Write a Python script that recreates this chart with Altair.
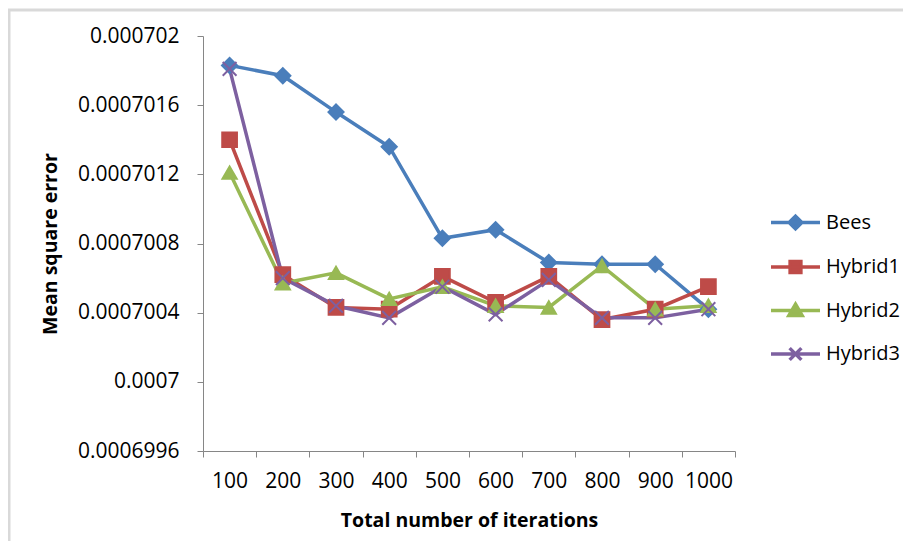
import altair as alt
import pandas as pd

iterations = ["100", "200", "300", "400", "500", "600", "700", "800", "900", "1000"]
series = ["Bees", "Hybrid1", "Hybrid2", "Hybrid3"]
bees = [0.00070183, 0.00070177, 0.00070156, 0.00070136, 0.00070083, 0.00070088, 0.00070069, 0.00070068, 0.00070068, 0.00070042]
hybrid1 = [0.00070140, 0.00070062, 0.00070043, 0.00070042, 0.00070061, 0.00070046, 0.00070061, 0.00070036, 0.00070042, 0.00070055]
hybrid2 = [0.00070121, 0.00070057, 0.00070063, 0.00070048, 0.00070055, 0.00070044, 0.00070043, 0.00070067, 0.00070042, 0.00070044]
hybrid3 = [0.00070181, 0.00070060, 0.00070044, 0.00070037, 0.00070055, 0.00070039, 0.00070059, 0.00070037, 0.00070037, 0.00070042]
y_ticks = [0.0006996, 0.0007, 0.0007004, 0.0007008, 0.0007012, 0.0007016, 0.000702]
colors = ["#4A7EBB", "#BE4B48", "#98B954", "#7D60A0"]

FONT = "Open Sans"

rows = []
for name, vals in zip(series, [bees, hybrid1, hybrid2, hybrid3]):
    for it, v in zip(iterations, vals):
        rows.append({"Iterations": it, "Series": name, "MSE": v})
df = pd.DataFrame(rows)

x_enc = alt.X(
    "Iterations:N",
    sort=iterations,
    bandPosition=0.5,
    scale=alt.Scale(type="band", paddingInner=0, paddingOuter=0),
    axis=alt.Axis(
        title="Total number of iterations",
        labelAngle=0,
        tickBand="extent",
        tickSize=6,
        labelPadding=13,
        titlePadding=20,
    ),
)
y_enc = alt.Y(
    "MSE:Q",
    scale=alt.Scale(domain=[0.0006996, 0.000702], zero=False, nice=False),
    axis=alt.Axis(
        title="Mean square error",
        values=y_ticks,
        format=".7~f",
        tickSize=6,
        labelPadding=18,
        titlePadding=17,
    ),
)

lines = alt.Chart(df).mark_line(strokeWidth=3.5).encode(
    x=x_enc,
    y=y_enc,
    stroke=alt.Stroke("Series:N", sort=series, scale=alt.Scale(domain=series, range=colors), legend=None),
    detail="Series:N",
)

marker_shapes = ["diamond", "square", "triangle-up", "M-1,-1L1,1M-1,1L1,-1"]
marker_sizes = [230, 190, 260, 220]
points = alt.Chart(df).mark_point(filled=True, opacity=1, strokeWidth=2).encode(
    x=x_enc,
    y=y_enc,
    fill=alt.Fill("Series:N", sort=series, scale=alt.Scale(domain=series, range=colors), legend=None),
    stroke=alt.Stroke("Series:N", sort=series, scale=alt.Scale(domain=series, range=colors), legend=None),
    shape=alt.Shape("Series:N", sort=series, scale=alt.Scale(domain=series, range=marker_shapes), legend=None),
    size=alt.Size("Series:N", sort=series, scale=alt.Scale(domain=series, range=marker_sizes), legend=None),
)

legend_shapes = [
    "M-1,0L1,0M0,-0.26L0.26,0L0,0.26L-0.26,0Z",
    "M-1,0L1,0M-0.22,-0.22L0.22,-0.22L0.22,0.22L-0.22,0.22Z",
    "M-1,0L1,0M0,-0.26L0.27,0.2L-0.27,0.2Z",
    "M-1,0L1,0M-0.24,-0.24L0.24,0.24M-0.24,0.24L0.24,-0.24",
]
leg = alt.Legend(
    title=None,
    orient="none",
    legendX=566,
    legendY=160,
    symbolSize=2401,
    symbolStrokeWidth=3.5,
    labelFont=FONT,
    labelFontSize=20,
    labelColor="#000000",
    labelOffset=4,
    rowPadding=4.5,
    padding=0,
)
legend_layer = alt.Chart(df).mark_point(filled=True, opacity=1, strokeWidth=3.5, clip=True, size=10).encode(
    x=alt.value(-300),
    y=alt.value(-300),
    fill=alt.Fill("Series:N", sort=series, scale=alt.Scale(domain=series, range=colors), legend=leg),
    stroke=alt.Stroke("Series:N", sort=series, scale=alt.Scale(domain=series, range=colors), legend=leg),
    shape=alt.Shape("Series:N", sort=series, scale=alt.Scale(domain=series, range=legend_shapes), legend=leg),
)

frame_df = pd.DataFrame({"k": [0]})
frame_top = alt.Chart(frame_df).mark_rule(color="#D9D9D9", strokeWidth=3, clip=False).encode(
    x=alt.value(-195), x2=alt.value(720), y=alt.value(-26)
)
frame_left = alt.Chart(frame_df).mark_rule(color="#D9D9D9", strokeWidth=3, clip=False).encode(
    x=alt.value(-194), y=alt.value(-27), y2=alt.value(520)
)

chart = (
    alt.layer(frame_top, frame_left, lines, points, legend_layer)
    .resolve_scale(stroke="independent", fill="independent", shape="independent", size="independent")
    .properties(
        width=532,
        height=415,
        autosize=alt.AutoSizeParams(type="none"),
        padding={"left": 195, "top": 28, "right": 168, "bottom": 90},
    )
    .configure_view(stroke=None)
    .configure_axis(
        grid=False,
        domainColor="#868686",
        domainWidth=1,
        tickColor="#868686",
        tickWidth=1,
        labelFont=FONT,
        labelFontSize=21,
        labelColor="#000000",
        titleFont=FONT,
        titleFontSize=19.5,
        titleFontWeight="bold",
        titleColor="#000000",
    )
    .configure_legend(symbolLimit=0)
)

chart.save("out.html", embed_options={"renderer": "svg", "actions": False})
